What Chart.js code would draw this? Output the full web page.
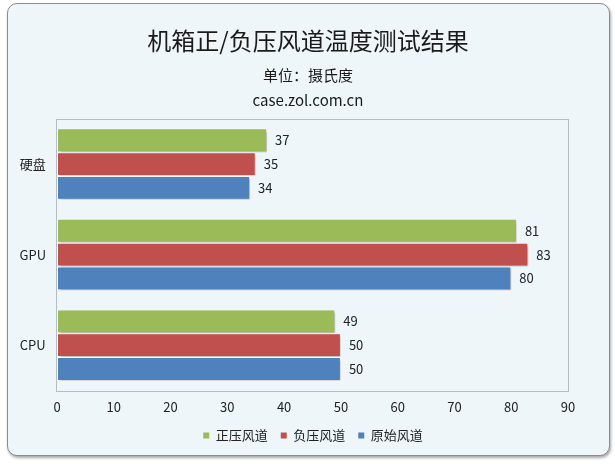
<!DOCTYPE html>
<html>
<head>
<meta charset="utf-8">
<script src="https://cdn.jsdelivr.net/npm/chart.js@4"></script>
<style>
  html, body { margin: 0; padding: 0; background: #ffffff; }
  #Frame {
    position: absolute; left: 7px; top: 3px; width: 601px; height: 451px;
    border: 1px solid #8c8c8c; border-radius: 10px;
    background: #eff6fa;
    box-shadow: 1px 2px 3px rgba(0,0,0,0.35);
  }
  #Holder { position: absolute; left: 0; top: 0; width: 615px; height: 464px; }
</style>
</head>
<body>
<div id="Frame"></div>
<div id="Holder"><canvas id="TempChart"></canvas></div>
<script>
const Categories = ["硬盘", "GPU", "CPU"];
const SeriesNames = ["正压风道", "负压风道", "原始风道"];
const PositiveValues = [37, 81, 49];
const NegativeValues = [35, 83, 50];
const OriginalValues = [34, 80, 50];
const XTicks = [0, 10, 20, 30, 40, 50, 60, 70, 80, 90];

const FontFamily = "'Noto Sans CJK SC', 'Noto Sans', sans-serif";
const Colors = ["#9bbb59", "#c0504d", "#4f81bd"];

// titles and legend are centred on the whole frame, not on the plot
const CentrePlugin = {
  id: "centrePlugin",
  afterLayout(chart) {
    chart.boxes.forEach(Box => {
      const IsTitle = Box.options && Box.options.text !== undefined && !Box.legendItems;
      if (IsTitle) {
        const Shift = 308 - (Box.left + Box.right) / 2;
        Box.left += Shift;
        Box.right += Shift;
      }
    });
    const Legend = chart.legend;
    if (Legend) {
      const Shift = 313 - (Legend.left + Legend.right) / 2;
      Legend.left += Shift;
      Legend.right += Shift;
      Legend.top -= 8;
      Legend.bottom -= 8;
    }
  }
};

// plot frame, bar shadows and value labels
const FramePlugin = {
  id: "framePlugin",
  beforeDatasetsDraw(chart) {
    const { ctx, chartArea } = chart;
    ctx.save();
    ctx.strokeStyle = "#b4bcc4";
    ctx.lineWidth = 1;
    ctx.strokeRect(Math.round(chartArea.left) - 0.5, Math.round(chartArea.top) + 0.5,
      Math.round(chartArea.right - chartArea.left) + 1, Math.round(chartArea.bottom - chartArea.top));
    ctx.restore();
    ctx.save();
    ctx.shadowColor = "rgba(0,0,0,0.35)";
    ctx.shadowBlur = 3;
    ctx.shadowOffsetX = 1.5;
    ctx.shadowOffsetY = 1.5;
  },
  afterDatasetsDraw(chart) {
    chart.ctx.restore();
    const { ctx } = chart;
    ctx.save();
    ctx.font = "13px " + FontFamily;
    ctx.fillStyle = "#222222";
    ctx.textAlign = "left";
    ctx.textBaseline = "middle";
    chart.data.datasets.forEach((Dataset, i) => {
      const Meta = chart.getDatasetMeta(i);
      Meta.data.forEach((Bar, j) => {
        ctx.fillText(String(Dataset.data[j]), Bar.x + 8, Bar.y);
      });
    });
    ctx.restore();
  }
};

const Datasets = [PositiveValues, NegativeValues, OriginalValues].map((Values, i) => ({
  label: SeriesNames[i],
  data: Values,
  backgroundColor: Colors[i],
  borderColor: "#ffffff",
  borderWidth: 1,
  borderSkipped: false,
  barPercentage: 1.0,
  categoryPercentage: 0.79
}));

const Config = {
  type: "bar",
  data: { labels: Categories, datasets: Datasets },
  options: {
    indexAxis: "y",
    responsive: true,
    maintainAspectRatio: false,
    animation: false,
    layout: { padding: { left: 8, right: 47, top: 0, bottom: 4 } },
    plugins: {
      title: {
        display: true,
        text: "机箱正/负压风道温度测试结果",
        color: "#1a1a1a",
        font: { family: FontFamily, size: 24, weight: "normal", lineHeight: 1.2 },
        padding: { top: 26, bottom: 8 }
      },
      subtitle: {
        display: true,
        text: ["单位：摄氏度", "case.zol.com.cn"],
        color: "#1a1a1a",
        font: { family: FontFamily, size: 15, weight: "normal", lineHeight: 1.667 },
        padding: { top: 0, bottom: 6 }
      },
      legend: {
        position: "bottom",
        labels: {
          boxWidth: 6,
          boxHeight: 6,
          padding: 13,
          color: "#222222",
          font: { family: FontFamily, size: 13 },
          generateLabels(chart) {
            const Items = Chart.defaults.plugins.legend.labels.generateLabels(chart);
            Items.forEach(Item => { Item.lineWidth = 0; });
            return Items;
          }
        }
      },
      tooltip: { enabled: false }
    },
    scales: {
      x: {
        min: 0,
        max: 90,
        afterBuildTicks(Scale) { Scale.ticks = XTicks.map(v => ({ value: v })); },
        grid: { display: false, drawTicks: false },
        border: { display: false },
        ticks: { color: "#222222", padding: 9, font: { family: FontFamily, size: 13 } }
      },
      y: {
        grid: { display: false },
        border: { display: false },
        afterFit(Scale) { Scale.width = 49; },
        ticks: { color: "#222222", crossAlign: "center", font: { family: FontFamily, size: 13 } }
      }
    }
  },
  plugins: [CentrePlugin, FramePlugin]
};

new Chart(document.getElementById("TempChart"), Config);
</script>
</body>
</html>
